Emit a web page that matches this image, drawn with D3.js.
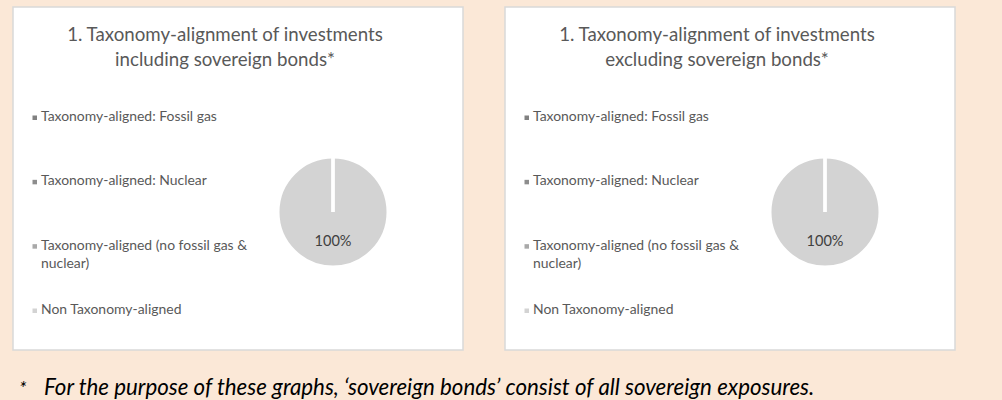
<!DOCTYPE html>
<html>
<head>
<meta charset="utf-8">
<script src="https://cdn.jsdelivr.net/npm/d3@7"></script>
<style>
  html, body { margin: 0; padding: 0; background: #FBE8D7; }
  svg { display: block; }
</style>
</head>
<body>
<svg id="chart" width="1002" height="400"></svg>
<script>
// ---- data ----
const categories = [
  "Taxonomy-aligned: Fossil gas",
  "Taxonomy-aligned: Nuclear",
  "Taxonomy-aligned (no fossil gas & nuclear)",
  "Non Taxonomy-aligned"
];
const valuesIncluding = [0, 0, 0, 100];
const valuesExcluding = [0, 0, 0, 100];
const titlesIncluding = ["1. Taxonomy-alignment of investments", "including sovereign bonds*"];
const titlesExcluding = ["1. Taxonomy-alignment of investments", "excluding sovereign bonds*"];
const seriesColors = ["#818181", "#8D8D8D", "#A9A9A9", "#D3D3D3"];
const footnoteMark = "*";
const footnoteText = "For the purpose of these graphs, \u2018sovereign bonds\u2019 consist of all sovereign exposures.";

// ---- layout ----
const svg = d3.select("#chart");
const FONT = "Lato, 'Open Sans', sans-serif";
const panelW = 450, panelH = 343;
const panels = [
  { x: 13, titles: titlesIncluding, values: valuesIncluding },
  { x: 505, titles: titlesExcluding, values: valuesExcluding }
];

function fitWidth(sel, target, startSize) {
  sel.attr("font-size", startSize);
  const w = sel.node().getComputedTextLength();
  const s = startSize * target / w;
  sel.attr("font-size", s);
  return s;
}

const color = d3.scaleOrdinal().domain(categories).range(seriesColors);
const legendY = d3.scalePoint().domain(categories).range([114, 307]);
const pie = d3.pie().sort(null).value(d => d.value);
const radius = 55;
const arc = d3.arc().innerRadius(0).outerRadius(radius);
const labelArc = d3.arc().innerRadius(0).outerRadius(radius * 1.06);

// measure legend font size
let legendSize, titleSize, labelSize;
{
  const t = svg.append("text").attr("font-family", FONT).text(categories[0]);
  legendSize = fitWidth(t, 176, 13);
  t.text(titlesIncluding[0]);
  titleSize = fitWidth(t, 316, 18);
  t.text("100%");
  labelSize = fitWidth(t, 37, 14);
  t.remove();
}

function wrap(textSel, maxW, lineH) {
  textSel.each(function() {
    const text = d3.select(this);
    const words = text.text().split(/\s+/);
    const x = text.attr("x");
    text.text(null);
    let line = [];
    let lineNo = 0;
    let tspan = text.append("tspan").attr("x", x).attr("dy", 0);
    words.forEach(w => {
      line.push(w);
      tspan.text(line.join(" "));
      if (tspan.node().getComputedTextLength() > maxW && line.length > 1) {
        line.pop();
        tspan.text(line.join(" "));
        line = [w];
        lineNo++;
        tspan = text.append("tspan").attr("x", x).attr("dy", lineH).text(w);
      }
    });
  });
}

panels.forEach(p => {
  const g = svg.append("g").attr("transform", `translate(${p.x},7)`);
  g.append("rect")
    .attr("width", panelW).attr("height", panelH)
    .attr("fill", "#FFFFFF").attr("stroke", "#D9D9D9").attr("stroke-width", 1.5);

  // title
  g.selectAll("text.title").data(p.titles).join("text")
    .attr("class", "title")
    .attr("x", 212).attr("y", (d, i) => 34 + i * 24.5)
    .attr("text-anchor", "middle")
    .attr("font-family", FONT).attr("font-size", titleSize)
    .attr("fill", "#595959")
    .text(d => d);

  // legend
  const lg = g.selectAll("g.leg").data(categories).join("g")
    .attr("class", "leg")
    .attr("transform", d => `translate(0,${legendY(d)})`);
  lg.append("rect")
    .attr("x", 19.5).attr("y", -5.5).attr("width", 4.5).attr("height", 4.5)
    .attr("fill", d => color(d));
  lg.append("text")
    .attr("x", 28).attr("y", 0)
    .attr("font-family", FONT).attr("font-size", legendSize)
    .attr("fill", "#595959")
    .text(d => d)
    .call(wrap, 212, 18);

  // pie
  const data = categories.map((c, i) => ({ name: c, value: p.values[i] }));
  const arcs = pie(data);
  const pg = g.append("g").attr("transform", "translate(320,205)");
  pg.selectAll("path.fill").data(arcs).join("path")
    .attr("class", "fill")
    .attr("d", arc)
    .attr("fill", d => color(d.data.name));
  pg.selectAll("path.edge").data(arcs).join("path")
    .attr("class", "edge")
    .attr("d", arc)
    .attr("fill", "none")
    .attr("stroke", "#FFFFFF").attr("stroke-width", 3);
  pg.selectAll("text.lbl").data(arcs.filter(d => d.data.value > 0)).join("text")
    .attr("class", "lbl")
    .attr("transform", d => `translate(${labelArc.centroid(d)})`)
    .attr("text-anchor", "middle").attr("dy", "0.35em")
    .attr("font-family", FONT).attr("font-size", labelSize)
    .attr("fill", "#404040")
    .text(d => d3.format(".0%")(d.data.value / d3.sum(p.values)));
});

// footnote
svg.append("text")
  .attr("x", 19).attr("y", 395)
  .attr("font-family", FONT).attr("font-size", 19).attr("font-style", "italic")
  .attr("fill", "#000000")
  .text(footnoteMark);
const fn = svg.append("text")
  .attr("x", 44).attr("y", 395)
  .attr("font-family", FONT).attr("font-style", "italic")
  .attr("fill", "#000000")
  .text(footnoteText);
fitWidth(fn, 771, 19);
</script>
</body>
</html>
